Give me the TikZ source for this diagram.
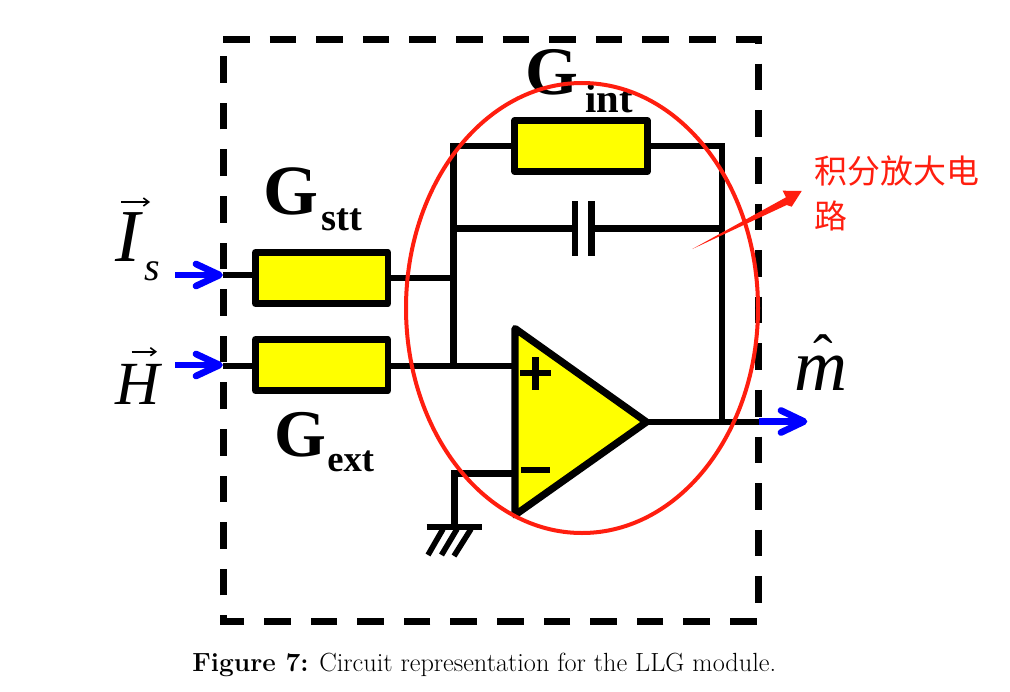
\documentclass[tikz,border=0pt]{standalone}
\usepackage{fontspec}
\usetikzlibrary{arrows.meta}
\newfontfamily\cjk{Noto Sans CJK SC}
\newfontfamily\tnr{Liberation Serif}
\definecolor{ry}{RGB}{255,255,0}
\definecolor{redc}{RGB}{255,30,15}
\definecolor{blu}{RGB}{0,0,255}
\tikzset{
 wire/.style={line width=4.8pt,draw=black,line join=miter},
 frame/.style={line width=5.25pt,draw=black,dash pattern=on 20pt off 14.95pt},
 resbox/.style={draw=black,line width=4.8pt,fill=ry,line join=round,minimum width=99.5pt,minimum height=38.5pt,inner sep=0pt,outer sep=0pt,anchor=center},
 gbig/.style={font=\tnr\bfseries\fontsize{50}{50}\selectfont,inner sep=0pt,anchor=base west},
 gsub/.style={font=\tnr\bfseries\fontsize{29}{29}\selectfont,inner sep=0pt,anchor=base west},
 vecl/.style={font=\tnr\itshape,inner sep=0pt,anchor=base west},
 bluea/.style={draw=blu,line width=5pt,line cap=round,line join=round},
 thin arrow/.style={line width=1.2pt,-{Straight Barb[length=4pt,width=6pt]}},
}
\begin{document}
\begin{tikzpicture}[x=0.75pt,y=-0.75pt]
\useasboundingbox (0,0) rectangle (1010,692);
\fill[white] (0,0) rectangle (1010,692);
% frame
\coordinate (tl) at (223,40);\coordinate (tr) at (758.5,40);\coordinate (bl) at (223,621);\coordinate (br) at (758.5,621);
\draw[frame] (tl) -- (tr) -- (br) -- (bl) -- cycle;
% nodes
\node[resbox] (gstt) at (321.7,278) {};
\node[resbox] (gext) at (321.7,365) {};
\node[resbox] (gint) at (581,146) {};
\coordinate (isin) at (223,275);\coordinate (hin) at (223,366);
\coordinate (j1) at (453.3,278);\coordinate (j2) at (453.3,366);\coordinate (jt) at (453.3,146);\coordinate (jc) at (453.3,228.3);
\coordinate (rt) at (721.7,146);\coordinate (rc) at (721.7,228.3);\coordinate (ro) at (721.7,422);
\coordinate (p1) at (515,328.5);\coordinate (p2) at (515,515);\coordinate (p3) at (646.5,422);
\coordinate (cl) at (575,228.3);\coordinate (cr) at (591.5,228.3);
\coordinate (gt) at (454.3,473.3);\coordinate (gnd) at (454.3,526.7);\coordinate (minus) at (515,473.3);\coordinate (plus) at (515,366);
\coordinate (oe) at (758.5,422);
\draw[wire] (isin) -- (gstt.west |- isin);
\draw[wire] (hin) -- (gext.west |- hin);
\draw[wire] (gstt.east) -- (j1);
\draw[wire] (gext.east |- plus) -- (plus);
\draw[wire] (j2) -- (jt) -- (gint.west);
\draw[wire] (gint.east) -- (rt) -- (ro);
\draw[wire] (jc) -- (cl);\draw[wire] (cr) -- (rc);
\draw[wire] (cl |- 0,201) -- (cl |- 0,256);
\draw[wire] (cr |- 0,201) -- (cr |- 0,256);
\draw[wire] (p3) -- (oe);
\draw[wire] (minus) -- (gt) -- (gnd);
\draw[wire] (426.7,526.7) -- (481.7,526.7);
\draw[wire,line width=4.2pt] (443,529) -- (428,555);
\draw[wire,line width=4.2pt] (457,529) -- (441.5,555);
\draw[wire,line width=4.2pt] (471,529) -- (454,556);
\draw[fill=ry,line width=5.4pt,line join=round] (p1) -- (p3) -- (p2) -- cycle;
\draw[line width=4.8pt] (520,372.7) -- (551,372.7);
\draw[line width=4.8pt] (535.3,357) -- (535.3,390);
\draw[line width=5pt] (521,470) -- (550,470);
% labels
\node[gbig,font=\tnr\bfseries\fontsize{53}{53}\selectfont] (lstt) at (263.5,214) {G};
\node[gsub] (lstt2) at (321,230) {stt};
\node[gbig] (lext) at (274,456) {G};
\node[gsub,font=\tnr\bfseries\fontsize{27.5}{27.5}\selectfont] (lext2) at (327,471.5) {ext};
\node[gbig,font=\tnr\bfseries\fontsize{51}{51}\selectfont] (lint) at (525,94) {G};
\node[gsub,font=\tnr\bfseries\fontsize{30.5}{30.5}\selectfont] (lint2) at (585,113) {int};
\node[vecl,font=\tnr\itshape\fontsize{56}{56}\selectfont] (li) at (115.5,261.5) {I};
\coordinate (ia) at (121,202);\coordinate (ib) at (150,202);
\draw[thin arrow] (ia) -- (ib);
\node[vecl,font=\tnr\itshape\fontsize{30}{30}\selectfont] (ls) at (144.5,280.5) {s};
\node[vecl,font=\tnr\itshape\fontsize{46}{46}\selectfont] (lh) at (115,404) {H};
\coordinate (ha) at (131.7,351.7);\coordinate (hb) at (157,351.7);
\draw[thin arrow] (ha) -- (hb);
\node[vecl,font=\tnr\itshape\fontsize{55}{55}\selectfont] (lm) at (794,390.5) {\rlap{\hspace{14.25pt}\raisebox{11.6pt}{\tnr\upshape\fontsize{44}{44}\selectfont ˆ}}m};
% blue arrows
\coordinate (b1s) at (175,275);\coordinate (b1t) at (219.5,275);
\coordinate (b2s) at (175,365);\coordinate (b2t) at (219.5,365);
\coordinate (b3s) at (759,421.5);\coordinate (b3t) at (804,421.5);
\draw[bluea,line cap=butt] (b1s) -- (b1t);
\draw[bluea] (196,264) -- (b1t) -- (196,286);
\draw[bluea,line cap=butt] (b2s) -- (b2t);
\draw[bluea] (196,354) -- (b2t) -- (196,376);
\draw[bluea,line cap=butt] (b3s) -- (b3t);
\draw[bluea] (781,410.5) -- (b3t) -- (781,432.5);
% red
\draw[draw=redc,line width=3pt] (582,308) ellipse [x radius=176,y radius=225];
\fill[redc] (692.3,249) -- (786,197.3) -- (782.7,190.7) -- (801.7,191) -- (791.7,206.7) -- (786.7,205) -- cycle;
\node[font=\cjk\fontsize{24.7}{33.75}\selectfont,text=redc,align=left,inner sep=0pt,anchor=north west] (ltext) at (814,156) {积分放大电\\路};
% caption
\node[font=\fontsize{19.7}{22}\selectfont,inner sep=0pt,anchor=base west] (cap) at (192,671.5) {\textbf{Figure 7:} Circuit representation for the LLG module.};
\end{tikzpicture}
\end{document}
